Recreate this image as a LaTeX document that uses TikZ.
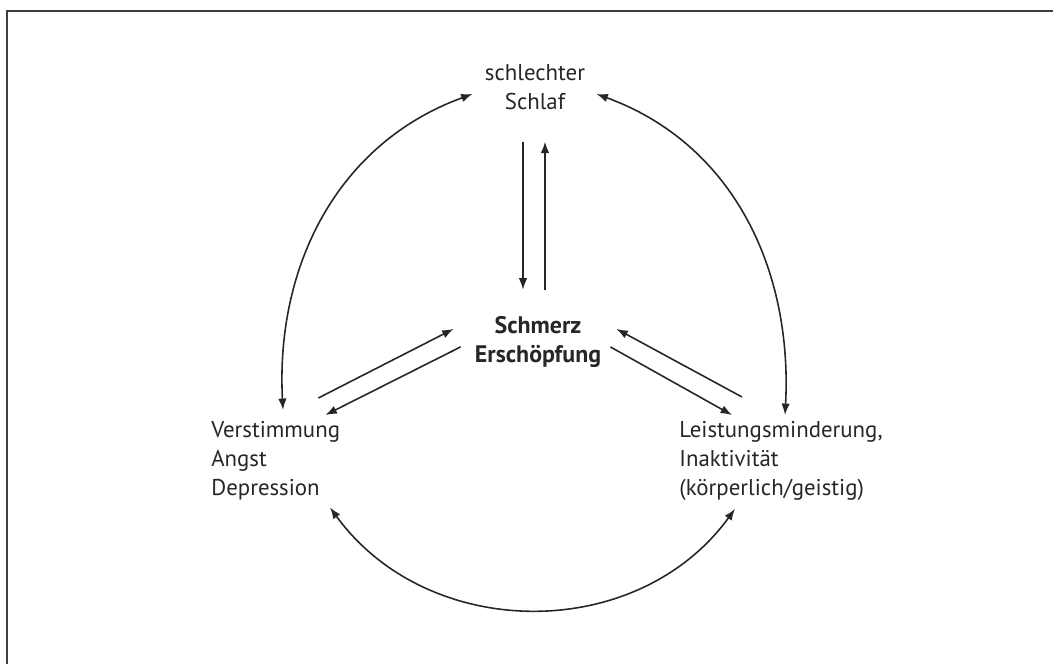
\documentclass[tikz,border=0pt]{standalone}
\usepackage{fontspec}
\setmainfont{PT Sans}
\usetikzlibrary{arrows.meta}
\begin{document}
\begin{tikzpicture}[x=0.02cm,y=0.02cm,
		every node/.style={inner sep=0pt,text=black!85,font=\fontsize{13}{16.5}\selectfont},
		>={Latex[length=6.5pt,width=4.8pt]},
		pfeil/.style={draw=black!85,line width=0.9pt}]
	\useasboundingbox (0,0) rectangle (1053,664);
	% Rahmen
	\draw[black!75,line width=1.2pt] (1053,653) -- (7,653) -- (7,0);
	% Begriffe
	\node[align=center,anchor=north] (schlaf) at (535,600) {schlechter\\Schlaf};
	\node[align=center,anchor=north,font=\fontsize{13.6}{16.5}\selectfont\bfseries] (schmerz) at (538,348) {Schmerz\\Erschöpfung};
	\node[align=left,anchor=north west] (verst) at (211,243) {Verstimmung\\Angst\\Depression};
	\node[align=left,anchor=north west] (leist) at (679,243) {Leistungsminderung,\\Inaktivität\\(körperlich/geistig)};
	% Schlaf <-> Schmerz
	\draw[pfeil,->,shorten <=18pt,shorten >=15pt] ([shift={(-12,0)}]schlaf.south) -- ([shift={(-12,0)}]schlaf.south |- schmerz.north);
	\draw[pfeil,->,shorten <=15pt,shorten >=18pt] ([shift={(10,0)}]schlaf.south |- schmerz.north) -- ([shift={(10,0)}]schlaf.south);
	% Verstimmung <-> Schmerz
	\draw[pfeil,->] ([shift={(-22,23)}]verst.north east) -- ([shift={(-21,13)}]schmerz.west);
	\draw[pfeil,->] ([shift={(-14,-5)}]schmerz.west) -- ([shift={(-15,6)}]verst.north east);
	% Leistung <-> Schmerz
	\draw[pfeil,->] ([shift={(63,24)}]leist.north west) -- ([shift={(15,13)}]schmerz.east);
	\draw[pfeil,->] ([shift={(9,-5)}]schmerz.east) -- ([shift={(53,6)}]leist.north west);
	% Kreisboegen
	\draw[pfeil,<->] ([shift={(72,11)}]verst.north west) to[out=93,in=200] ([shift={(-12,-7)}]schlaf.west);
	\draw[pfeil,<->] ([shift={(106,6)}]leist.north west) to[out=87,in=-20] ([shift={(11,-7)}]schlaf.east);
	\draw[pfeil,<->] ([shift={(119,-7)}]verst.south west) to[out=-54,in=-126,looseness=1.05] ([shift={(56,-8)}]leist.south west);
\end{tikzpicture}
\end{document}
